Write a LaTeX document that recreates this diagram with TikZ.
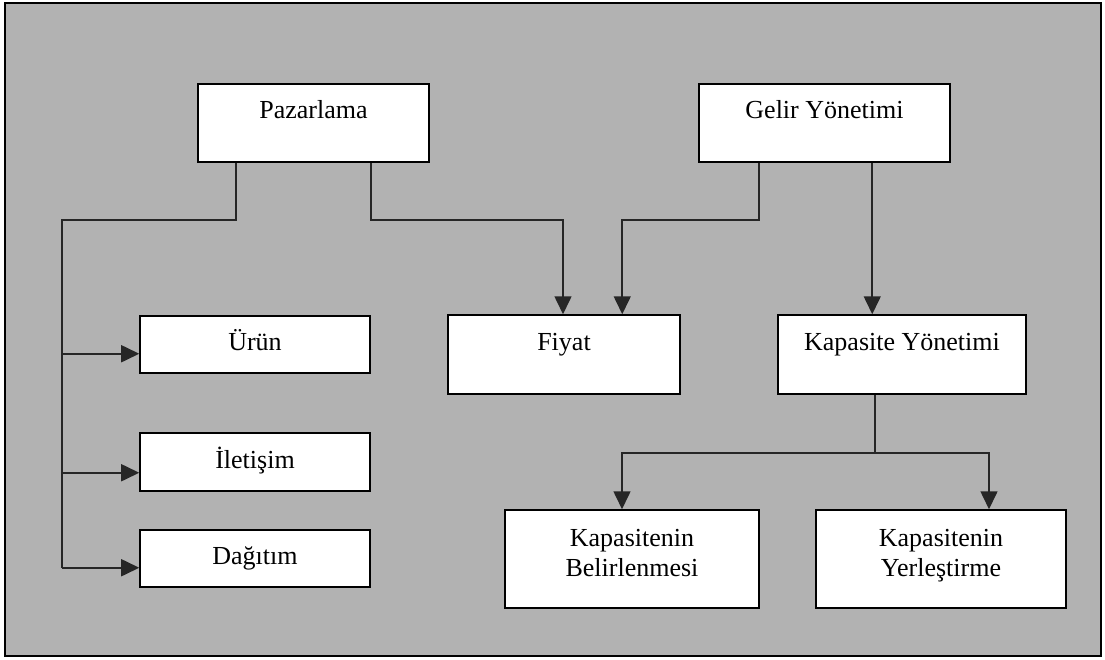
\documentclass[tikz,border=0pt]{standalone}
\usepackage{fontspec}
\setmainfont{Liberation Serif}
\usetikzlibrary{arrows.meta,calc}
\definecolor{panel}{RGB}{178,178,178}
\newcommand{\lowstrut}{\rule[-17bp]{0pt}{21bp}}
\tikzset{
  box/.style={draw=black, line width=1.5bp, fill=white, inner sep=0pt,
    font=\fontsize{26bp}{30bp}\selectfont, align=center,
    text height=18bp, text depth=6bp},
  tallbox/.style={box, text depth=26bp},
  twobox/.style={draw=black, line width=1.5bp, fill=white, inner sep=0pt,
    font=\fontsize{26bp}{30bp}\selectfont, align=center},
  link/.style={draw=black!85, line width=1.6bp},
  arr/.style={link, -{Triangle[length=18bp,width=17bp]}}
}
\begin{document}
\begin{tikzpicture}[x=1bp,y=-1bp]
  \useasboundingbox (0,0) rectangle (1105,660);
  % panel with frame
  \fill[white] (0,0) rectangle (1105,660);
  \draw[fill=panel, line width=1.5bp] (5,3) rectangle (1101,656);

  % top level
  \node[tallbox, minimum width=231bp, minimum height=78bp] (paz) at (313.5,123) {Pazarlama};
  \node[tallbox, minimum width=251bp, minimum height=78bp] (gel) at (824.5,123) {Gelir Yönetimi};

  % marketing mix
  \node[box, minimum width=230bp, minimum height=57bp] (uru) at (255,344.5) {Ürün};
  \node[box, minimum width=230bp, minimum height=58bp] (ile) at (255,462) {İletişim};
  \node[box, minimum width=230bp, minimum height=57bp] (dag) at (255,558.5) {Dağıtım};

  % price and capacity
  \node[tallbox, minimum width=232bp, minimum height=79bp] (fiy) at (564,354.5) {Fiyat};
  \node[tallbox, minimum width=248bp, minimum height=79bp] (kap) at (902,354.5) {Kapasite Yönetimi};

  % capacity sub-tasks
  \node[twobox, minimum width=254bp, minimum height=98bp] (bel) at (632,559)
    {\strut Kapasitenin\\\lowstrut Belirlenmesi};
  \node[twobox, minimum width=250bp, minimum height=98bp] (yer) at (941,559)
    {\strut Kapasitenin\\\lowstrut Yerleştirme};

  % Pazarlama -> Ürün / İletişim / Dağıtım
  \coordinate (pazL) at ($(paz.south west)+(39,0)$);
  \coordinate (trunkTop) at (62,220);
  \coordinate (uruIn) at ($(uru.south west)+(0,-20)$);
  \coordinate (ileIn) at ($(ile.south west)+(0,-19)$);
  \coordinate (dagIn) at ($(dag.south west)+(0,-20)$);
  \draw[link] (pazL) |- (trunkTop) -- (trunkTop |- dagIn);
  \draw[arr] (trunkTop |- uruIn) -- (uruIn);
  \draw[arr] (trunkTop |- ileIn) -- (ileIn);
  \draw[arr] (trunkTop |- dagIn) -- (dagIn);

  % Pazarlama -> Fiyat
  \coordinate (pazR) at ($(paz.south east)+(-59,0)$);
  \coordinate (fiyL) at ($(fiy.north)+(-1,0)$);
  \draw[arr] (pazR) |- ($(trunkTop -| fiyL)$) -- (fiyL);

  % Gelir Yönetimi -> Fiyat
  \coordinate (gelL) at ($(gel.south west)+(61,0)$);
  \coordinate (fiyR) at ($(fiy.north west)+(175,0)$);
  \draw[arr] (gelL) |- ($(trunkTop -| fiyR)$) -- (fiyR);

  % Gelir Yönetimi -> Kapasite Yönetimi
  \coordinate (gelM) at ($(gel.south west)+(174,0)$);
  \draw[arr] (gelM) -- (gelM |- kap.north);

  % Kapasite Yönetimi -> sub-tasks
  \coordinate (kapOut) at ($(kap.south west)+(98,0)$);
  \coordinate (fork) at ($(kapOut)+(0,58)$);
  \coordinate (belIn) at ($(bel.north)+(-10,0)$);
  \coordinate (yerIn) at ($(yer.north)+(48,0)$);
  \draw[link] (kapOut) -- (fork);
  \draw[arr] (fork) -| (belIn);
  \draw[arr] (fork) -| (yerIn);
\end{tikzpicture}
\end{document}
